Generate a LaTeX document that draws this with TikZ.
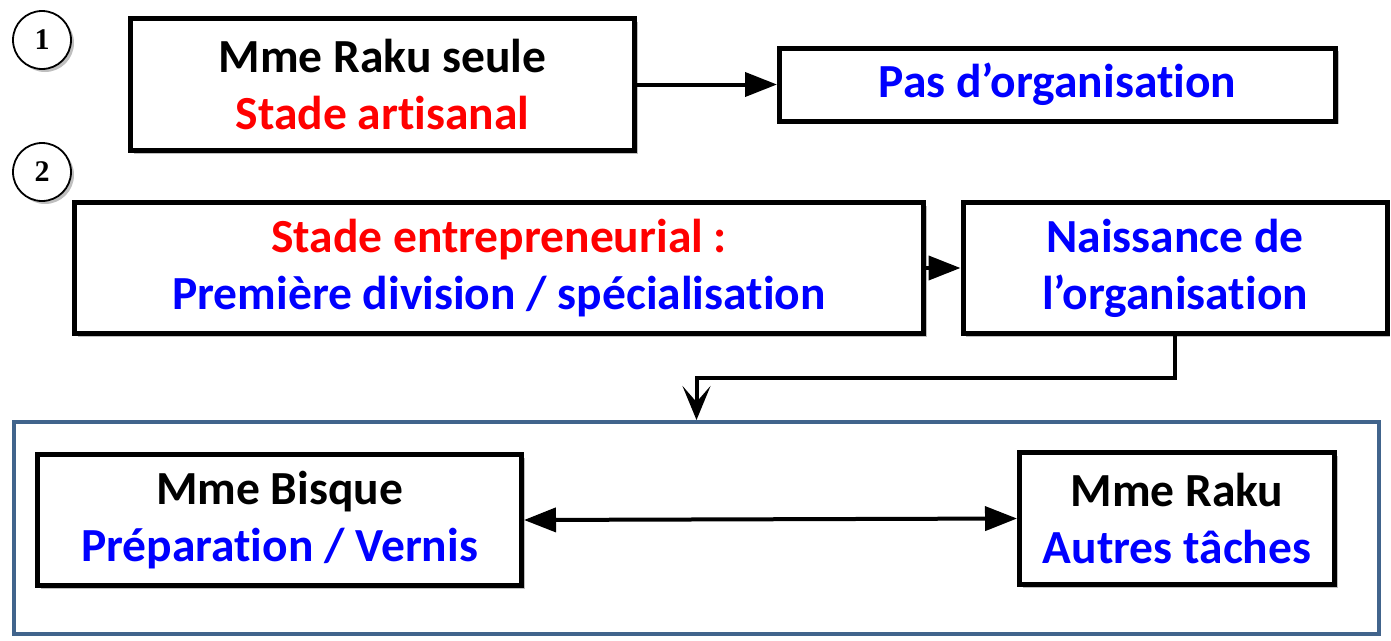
\documentclass[tikz,border=0pt]{standalone}
\usepackage{fontspec}
\setmainfont{Carlito}[Ligatures={NoCommon}]
\newfontfamily\numfont{Liberation Serif}
\usetikzlibrary{arrows.meta,shadows,calc}
\definecolor{frameblue}{HTML}{41648C}
\definecolor{txtred}{HTML}{FF0000}
\definecolor{txtblue}{HTML}{0000FF}
\tikzset{
  sh/.style={drop shadow={shadow xshift=3pt,shadow yshift=-3pt,opacity=0.25,fill=black}},
  box/.style={draw=black,line width=5pt,fill=white,sh,inner sep=0pt,align=center,
    font=\fontsize{47.5}{57}\selectfont\bfseries},
  numc/.style={draw=black,circle,line width=1.8pt,fill=white,sh,minimum size=58pt,inner sep=0pt,
    font=\fontsize{30}{30}\selectfont\numfont\bfseries},
  conn/.style={line width=4pt,-{Triangle[length=32pt,width=24pt]}},
  dconn/.style={line width=4pt,{Triangle[length=32pt,width=24pt]}-{Triangle[length=32pt,width=24pt]}},
}
\begin{document}
\begin{tikzpicture}[x=1pt,y=-1pt]
\useasboundingbox[fill=white] (0,0) rectangle (1391,640);
\node[numc] (n1) at (42,40) {1};
\node[numc] (n2) at (42,172) {2};
\node[box,minimum width=504pt,minimum height=132pt] (A) at (382.5,84.5)
  {Mme Raku seule\\{\color{txtred}Stade artisanal}};
\node[box,minimum width=556pt,minimum height=73pt] (B) at (1057.5,84.5)
  {\color{txtblue}Pas d’organisation};
\node[box,minimum width=849pt,minimum height=131pt] (C) at (499,268)
  {{\color{txtred}Stade entrepreneurial :}\\{\color{txtblue}Première division / spécialisation}};
\node[box,minimum width=424pt,minimum height=131pt] (D) at (1175,268)
  {{\color{txtblue}Naissance de}\\{\color{txtblue}l’organisation}};
\node[draw=frameblue,line width=4pt,fill=white,minimum width=1365pt,minimum height=212pt,inner sep=0pt] (G) at (696.5,528) {};
\node[box,minimum width=484pt,minimum height=131pt] (E) at (279.5,520)
  {Mme Bisque\\{\color{txtblue}Préparation / Vernis}};
\node[box,minimum width=315pt,minimum height=132pt] (F) at (1177,518.5)
  {Mme Raku\\{\color{txtblue}Autres tâches}};
\draw[conn] (A.east) -- (B.west);
\draw[conn] (C.east) -- (D.west);
\draw[line width=4pt,-{Stealth[length=34pt,width=28pt,inset=16pt]}] (D.south) -- ++(0,42) -| (G.north);
\draw[dconn] (E.east) -- (F.west);
\end{tikzpicture}
\end{document}
